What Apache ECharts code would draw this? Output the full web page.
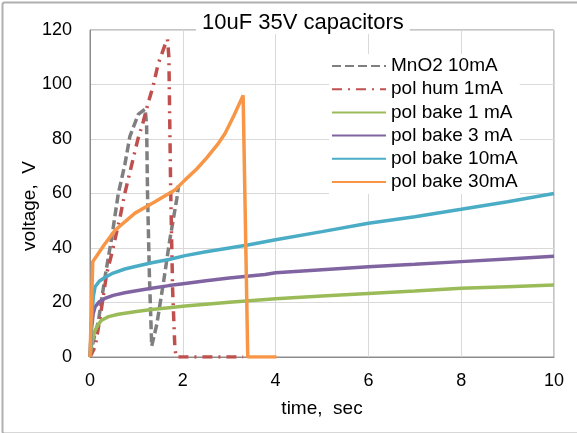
<!DOCTYPE html>
<html>
<head>
<meta charset="utf-8">
<script src="https://cdn.jsdelivr.net/npm/echarts@6/dist/echarts.min.js"></script>
<style>
html,body{margin:0;padding:0;background:#fff;}
#chart{width:577px;height:433px;}
</style>
</head>
<body>
<div id="chart"></div>
<script>
const titleText = '10uF 35V capacitors';
const xName = 'time,  sec';
const yName = 'voltage,  V';
const seriesNames = ['MnO2 10mA', 'pol hum 1mA', 'pol bake 1 mA', 'pol bake 3 mA', 'pol bake 10mA', 'pol bake 30mA'];

const mno2 = [[0,0],[0.1,8],[0.18,13],[0.32,29],[0.47,44],[0.61,60],[0.75,70.5],[0.86,81],[1.04,89],[1.19,91],[1.22,85],[1.24,60],[1.28,30],[1.33,4],[1.44,12],[1.58,27],[1.72,43],[1.87,58],[1.91,63]];
const polHum = [[0,0],[0.11,3.7],[0.22,14.7],[0.36,30.7],[0.47,38],[0.65,51.5],[0.75,60],[0.83,65.7],[1.03,79.8],[1.15,86.5],[1.26,93.6],[1.36,99.4],[1.47,107.6],[1.62,114.7],[1.67,116.6],[1.7,110],[1.72,85],[1.74,60],[1.78,25],[1.83,3],[1.86,0],[3.3,0]];
const bake1 = [[0,0],[0.03,4],[0.07,7.5],[0.11,9.8],[0.18,12],[0.25,13.5],[0.4,14.8],[0.61,15.7],[1.0,16.7],[1.33,17.4],[1.7,18.1],[2.05,18.7],[2.5,19.4],[3,20.1],[4,21.4],[5,22.4],[6,23.3],[7,24.2],[8,25.2],[9,25.8],[10,26.4]];
const bake3 = [[0,0],[0.03,10],[0.07,16],[0.11,18.4],[0.2,20.3],[0.32,21.5],[0.5,22.6],[0.75,23.6],[1.0,24.3],[1.33,25.2],[1.7,26.2],[2.05,27],[2.5,28],[3,29],[3.77,30.3],[4,30.9],[5,32],[6,33.1],[7,34],[8,35],[9,36],[10,37]];
const bake10 = [[0,0],[0.03,12],[0.07,22],[0.11,25.8],[0.2,27.8],[0.32,29.2],[0.5,30.8],[0.75,32.3],[1.0,33.3],[1.33,34.6],[1.7,35.8],[2.05,37.2],[2.5,38.6],[3,40],[3.4,41.1],[4,43],[5,46],[6,49.1],[7,51.5],[8,54.2],[9,57],[10,60]];
const bake30 = [[0,0],[0.06,35],[0.14,37],[0.3,41],[0.54,46.5],[0.97,52.8],[1.4,57],[1.83,61.3],[2.05,65],[2.3,69],[2.51,73],[2.75,78],[2.91,82],[3.1,88.5],[3.3,96],[3.4,0],[4.02,0]];

const seriesData = [mno2, polHum, bake1, bake3, bake10, bake30];
const colors = ['#7f7f7f', '#c0504d', '#9bbb59', '#8064a2', '#4bacc6', '#f79646'];
const dashTypes = [[9,4], [10,6,2,6], 'solid', 'solid', 'solid', 'solid'];

const chart = echarts.init(document.getElementById('chart'), null, {renderer: 'canvas'});
const FONT = 'Liberation Sans, Arial, sans-serif';

chart.setOption({
  animation: false,
  backgroundColor: '#fff',
  textStyle: {fontFamily: FONT},
  title: {
    text: titleText,
    left: 196,
    top: 12,
    padding: [0, 6],
    backgroundColor: '#fff',
    textStyle: {fontSize: 22, fontWeight: 'normal', color: '#000', fontFamily: FONT}
  },
  legend: {
    orient: 'vertical',
    left: 329,
    top: 54,
    itemWidth: 54,
    itemHeight: 12,
    itemGap: 3.2,
    padding: [2, 2],
    backgroundColor: '#fff',
    itemStyle: {opacity: 0},
    textStyle: {fontSize: 19, color: '#000', fontFamily: FONT, lineHeight: 20},
    data: seriesNames
  },
  grid: {
    left: 90, right: 23, top: 30, bottom: 76,
    show: true, borderColor: '#8c8c8c', borderWidth: 1, backgroundColor: 'transparent'
  },
  xAxis: {
    type: 'value', min: 0, max: 10, interval: 2,
    name: xName, nameLocation: 'middle', nameGap: 42, nameMoveOverlap: false,
    nameTextStyle: {fontSize: 19, color: '#000', fontFamily: FONT},
    axisLine: {show: true, lineStyle: {color: '#8c8c8c', width: 1}},
    axisTick: {show: false},
    axisLabel: {fontSize: 18, color: '#000', margin: 15, fontFamily: FONT},
    splitLine: {show: true, lineStyle: {color: '#d9d9d9', width: 1}}
  },
  yAxis: {
    type: 'value', min: 0, max: 120, interval: 20,
    name: yName, nameLocation: 'middle', nameGap: 51, nameRotate: 90, nameMoveOverlap: false,
    nameTextStyle: {fontSize: 19, color: '#000', fontFamily: FONT, padding: [0, 25, 0, 0]},
    axisLine: {show: true, lineStyle: {color: '#8c8c8c', width: 1}},
    axisTick: {show: false},
    axisLabel: {fontSize: 18, color: '#000', margin: 18, fontFamily: FONT},
    splitLine: {show: true, lineStyle: {color: '#d9d9d9', width: 1}}
  },
  graphic: [{
    type: 'rect', left: 0, top: 0, silent: true, z: -1,
    shape: {x: 0, y: 0, width: 576, height: 431, r: 2},
    style: {fill: 'none', stroke: '#b0b0b0', lineWidth: 2}
  }],
  series: seriesNames.map((n, i) => ({
    name: n,
    type: 'line',
    data: seriesData[i],
    showSymbol: false,
    symbol: 'none',
    smooth: false,
    color: colors[i],
    lineStyle: {color: colors[i], width: 3.5, type: dashTypes[i], cap: 'butt'},
    z: 2 + i
  }))
});
</script>
</body>
</html>
